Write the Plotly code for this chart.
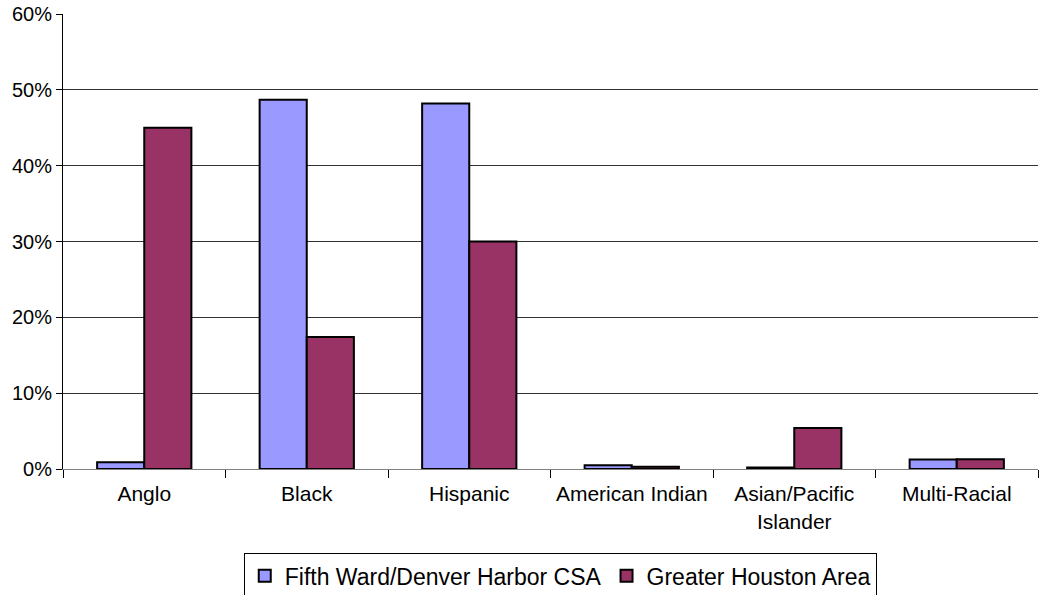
import plotly.graph_objects as go

categories = ["Anglo", "Black", "Hispanic", "American Indian", "Asian/Pacific<br>Islander", "Multi-Racial"]
fifth_ward = [0.009, 0.487, 0.482, 0.005, 0.002, 0.0125]
greater_houston = [0.450, 0.174, 0.300, 0.003, 0.054, 0.013]
y_ticks = [0, 0.1, 0.2, 0.3, 0.4, 0.5, 0.6]
y_tick_labels = ["0%", "10%", "20%", "30%", "40%", "50%", "60%"]

FONT = "Liberation Sans, Arial, sans-serif"

fig = go.Figure()
fig.add_trace(go.Bar(
    x=categories, y=fifth_ward, name="Fifth Ward/Denver Harbor CSA",
    marker=dict(color="#9999FF", line=dict(color="#000000", width=2)),
))
fig.add_trace(go.Bar(
    x=categories, y=greater_houston, name="Greater Houston Area",
    marker=dict(color="#993366", line=dict(color="#000000", width=2)),
))

fig.update_layout(
    width=1042, height=595,
    margin=dict(l=63, r=4, t=14, b=126, autoexpand=False),
    paper_bgcolor="white", plot_bgcolor="white",
    barmode="group", bargap=0.42, bargroupgap=0,
    font=dict(family=FONT, size=20, color="#000000"),
    showlegend=True,
    legend=dict(
        orientation="h", x=0.51, xanchor="center", y=-0.185, yanchor="top",
        bordercolor="#000000", borderwidth=1, bgcolor="white",
        font=dict(family=FONT, size=23, color="#000000"),
        itemwidth=30, tracegroupgap=0,
    ),
    xaxis=dict(
        automargin=False,
        showline=True, linecolor="#808080", linewidth=1,
        ticks="outside", tickson="boundaries", ticklen=8, tickcolor="#000000",
        showgrid=False, tickfont=dict(size=21), ticklabelstandoff=6,
    ),
    yaxis=dict(
        automargin=False, ticklabeloverflow="allow",
        range=[0, 0.6], tickvals=y_ticks, ticktext=y_tick_labels,
        showline=True, linecolor="#000000", linewidth=1,
        ticks="outside", ticklen=6, tickcolor="#000000",
        showgrid=True, gridcolor="#333333", gridwidth=1,
        zeroline=False, tickfont=dict(size=20),
    ),
)

fig.write_html(
    "out.html",
    config={"displayModeBar": False},
    post_script="document.body.style.margin='0';",
)
